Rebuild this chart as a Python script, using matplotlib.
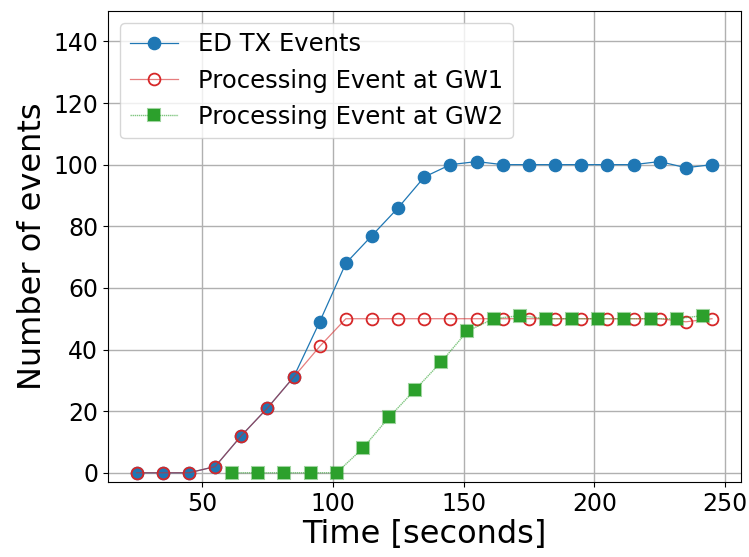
import matplotlib
matplotlib.use("Agg")
import matplotlib.pyplot as plt

time_ed = [25, 35, 45, 55, 65, 75, 85, 95, 105, 115, 125, 135, 145, 155, 165, 175, 185, 195, 205, 215, 225, 235, 245]
ed_tx = [0, 0, 0, 2, 12, 21, 31, 49, 68, 77, 86, 96, 100, 101, 100, 100, 100, 100, 100, 100, 101, 99, 100]
gw1 = [0, 0, 0, 2, 12, 21, 31, 41, 50, 50, 50, 50, 50, 50, 50, 50, 50, 50, 50, 50, 50, 49, 50]
time_gw2 = [61.5, 71.5, 81.5, 91.5, 101.5, 111.5, 121.5, 131.5, 141.5, 151.5, 161.5, 171.5, 181.5, 191.5, 201.5, 211.5, 221.5, 231.5, 241.5]
gw2 = [0, 0, 0, 0, 0, 8, 18, 27, 36, 46, 50, 51, 50, 50, 50, 50, 50, 50, 51]

fig = plt.figure(figsize=(7.49, 5.57), dpi=100)
ax = fig.add_axes([0.144, 0.1346, 0.845, 0.8464])

ax.plot(time_ed, ed_tx, marker='o', color='#1f77b4', lw=0.9, ms=8.8, label='ED TX Events', zorder=3)
ax.plot(time_ed, gw1, marker='o', color=(0.839, 0.153, 0.157, 0.6), lw=0.9, ms=8.5,
        markerfacecolor='none', markeredgecolor='#d62728', markeredgewidth=1.3,
        label='Processing Event at GW1', zorder=4)
ax.plot(time_gw2, gw2, marker='s', color=(0.173, 0.627, 0.173, 0.6), lw=1.0, ls=(0, (1, 0.5)), ms=8.8,
        markerfacecolor='#2ca02c', markeredgecolor=(0.173, 0.627, 0.173, 0.45), markeredgewidth=1.5,
        label='Processing Event at GW2', zorder=5)

ax.set_ylim(-3, 150)
ax.set_yticks([0, 20, 40, 60, 80, 100, 120, 140])
ax.set_xticks([50, 100, 150, 200, 250])
ax.grid(True, color='#b0b0b0', lw=1.0)
ax.set_axisbelow(True)
ax.tick_params(labelsize=17)
ax.set_xlabel('Time [seconds]', fontsize=23, labelpad=2)
ax.set_ylabel('Number of events', fontsize=23)
ax.legend(loc='upper left', fontsize=17.5)

fig.savefig('out.png', dpi=100)
